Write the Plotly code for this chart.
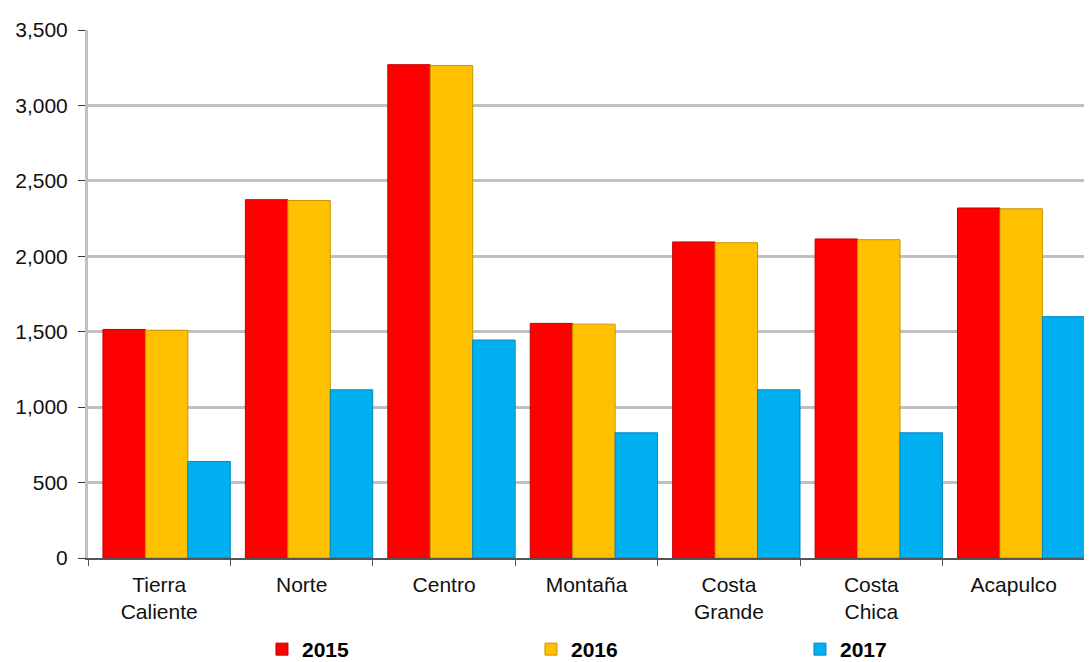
import plotly.graph_objects as go

categories = ["Tierra<br>Caliente", "Norte", "Centro", "Montaña", "Costa<br>Grande", "Costa<br>Chica", "Acapulco"]
series_names = ["2015", "2016", "2017"]
values_2015 = [1515, 2375, 3270, 1555, 2095, 2115, 2320]
values_2016 = [1510, 2370, 3265, 1550, 2090, 2110, 2315]
values_2017 = [640, 1115, 1445, 830, 1115, 830, 1600]
colors = ["#FF0000", "#FFC000", "#00B0F0"]
line_colors = ["#C00000", "#C89600", "#0088C0"]
bar_offsets = [-0.395, -0.097, 0.201]
y_ticks = [0, 500, 1000, 1500, 2000, 2500, 3000, 3500]

fig = go.Figure()
for name, vals, c, lc, off in zip(series_names, [values_2015, values_2016, values_2017],
                                   colors, line_colors, bar_offsets):
    fig.add_trace(go.Bar(
        x=categories, y=vals, name="<b>" + name + "</b>",
        width=0.298, offset=off,
        marker=dict(color=c, line=dict(color=lc, width=1)),
    ))

fig.update_layout(
    width=1092, height=662,
    margin=dict(l=80, r=15, t=22, b=112, autoexpand=False),
    paper_bgcolor="white", plot_bgcolor="white",
    barmode="group", bargap=0.1, bargroupgap=0,
    font=dict(family="Arial, Liberation Sans, sans-serif", size=22, color="#111111"),
    showlegend=True,
    legend=dict(orientation="h", x=0.1745, xanchor="left",
                y=0.0, yref="container", yanchor="bottom",
                font=dict(size=21, color="#000000"),
                entrywidth=224, entrywidthmode="pixels", traceorder="normal",
                itemwidth=30, bgcolor="rgba(0,0,0,0)"),
    xaxis=dict(showline=True, linecolor="#555555", linewidth=1.5, ticks="outside",
               tickcolor="#555555", ticklen=6, showgrid=False,
               tickson="boundaries", ticklabelstandoff=7,
               tickfont=dict(size=21, color="#111111")),
    yaxis=dict(range=[0, 3500], tickvals=y_ticks, tickformat=",d",
               showgrid=True, gridcolor="#C0C0C0", gridwidth=2.5,
               showline=True, linecolor="#C0C0C0", linewidth=3, mirror=True,
               ticks="outside", tickcolor="#333333", ticklen=7,
               ticklabelstandoff=6,
               tickfont=dict(size=21, color="#111111"), zeroline=False),
)

fig.write_html("out.html")
